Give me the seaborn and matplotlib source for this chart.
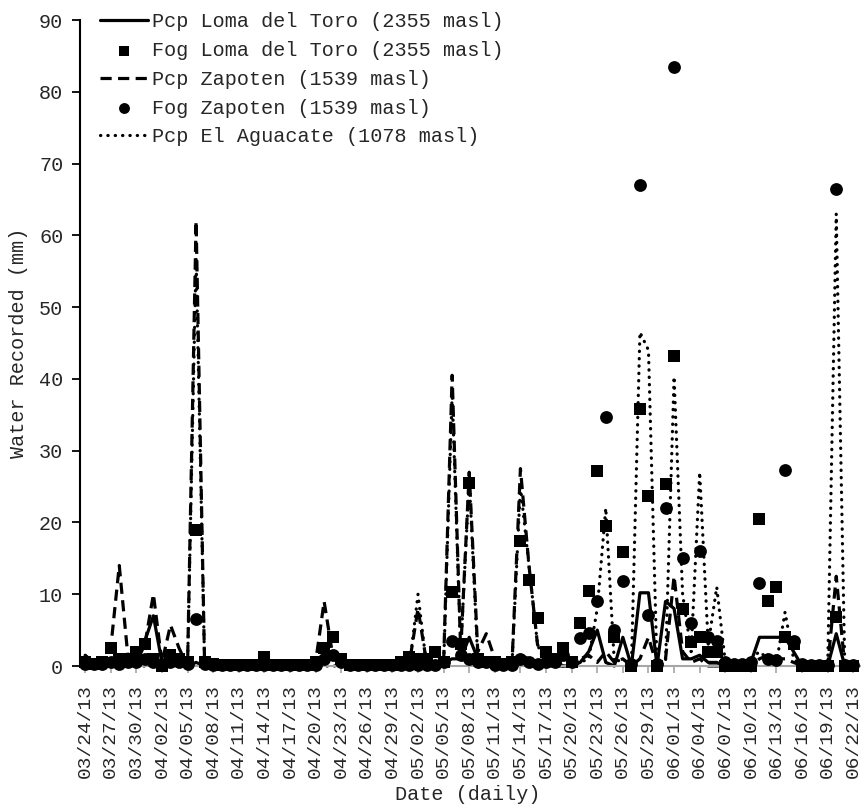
import numpy as np
import pandas as pd
import matplotlib
matplotlib.use("Agg")
import matplotlib.pyplot as plt
import seaborn as sns

# ---------------- data (daily, 03/24/13 .. 06/22/13) ----------------
start_date = "2013-03-24"
end_date = "2013-06-22"

loma_pcp = [
    1.5, 0, 0, 0.5, 0.5, 1, 1.5, 3.5, 7, 0.5,
    0.5, 0.5, 0, 0.5, 0, 0, 0, 0, 0, 0,
    0, 0, 0, 0, 0, 0, 0, 0, 1, 1.5,
    0.5, 0, 0, 0, 0, 0, 0, 0, 0, 0,
    0, 0, 0.5, 1, 1, 4, 1, 0.5, 0, 0,
    0, 1.5, 1, 0.5, 0, 0, 0, 0, 0.5, 2,
    5, 0.5, 0, 4, 0, 10.2, 10.2, 0, 9, 8,
    1, 1, 1.5, 0.5, 0.5, 0, 0, 0, 0.5, 4,
    4, 4, 4, 2, 0, 0, 0, 0, 4.5, 0,
    0]

loma_fog = [
    0.5, 0.3, 0.5, 2.5, 1, 1, 2, 3, 1, 0,
    1.5, 1, 0.5, 19, 0.5, 0.3, 0.2, 0.2, 0.2, 0.2,
    0.2, 1.2, 0.2, 0.2, 0.2, 0.2, 0.2, 0.5, 2.5, 4,
    1, 0.2, 0.2, 0.2, 0.2, 0.2, 0.2, 0.5, 1.2, 1,
    1, 2, 0.5, 10.3, 3, 25.5, 1, 0.5, 0.5, 0.3,
    0.5, 17.4, 12, 6.7, 2, 1, 2.5, 0.5, 6, 10.5,
    27.2, 19.5, 4, 15.9, 0, 35.8, 23.7, 0, 25.3, 43.2,
    8, 3.3, 4, 2, 2, 0, 0, 0, 0, 20.5,
    9, 11, 4, 3, 0, 0, 0, 0, 6.8, 0,
    0]

zap_pcp = [
    1.5, 0.5, 0, 2.5, 14, 1.5, 0.5, 3, 10, 0.5,
    5.7, 2.5, 0, 62, 0, 0, 0, 0, 0, 0,
    0, 0, 0, 0, 0, 0, 0, 0.5, 9, 1.5,
    0.5, 0, 0, 0, 0, 0, 0, 0, 0.5, 8,
    0.5, 0, 0.5, 40.5, 2, 27, 2, 4.5, 1, 0,
    0, 27.5, 14, 3, 0.5, 0, 0.5, 0, 1, 1.5,
    0.5, 2, 0.5, 1, 0, 1, 4, 0, 1, 12.5,
    2, 0.5, 1, 0, 0, 0, 0, 0, 0, 1,
    1.5, 1, 1, 0.5, 0, 0, 0, 0, 12.5, 0,
    0]

zap_fog = [
    0.3, 0.3, 0.3, 0.5, 0.3, 0.5, 0.5, 1, 0.5, 0.3,
    0.5, 0.5, 0.3, 6.5, 0.3, 0.2, 0.2, 0.2, 0.2, 0.2,
    0.2, 0.2, 0.2, 0.2, 0.2, 0.2, 0.2, 0.2, 1, 1.5,
    0.5, 0.2, 0.2, 0.2, 0.2, 0.2, 0.2, 0.2, 0.2, 0.2,
    0.2, 0.2, 0.5, 3.5, 1.5, 1, 0.5, 0.5, 0.2, 0.2,
    0.2, 1, 0.5, 0.3, 0.5, 0.5, 1.5, 0.5, 3.9, 4.6,
    9, 34.7, 5, 11.8, 0.3, 67, 7.1, 0.3, 22, 83.5,
    15, 6, 16, 4, 3.5, 0.5, 0.3, 0.3, 0.5, 11.5,
    1, 0.8, 27.3, 3.5, 0.3, 0.2, 0.2, 0.2, 66.5, 0.2,
    0.2]

agu_pcp = [
    0, 0, 0, 0, 0, 0, 0, 0, 0, 0,
    0, 0, 0, 57, 0, 0, 0, 0, 0, 0,
    0, 0, 0, 0, 0, 0, 0, 0, 0, 0,
    0, 0, 0, 0, 0, 0, 0, 0, 0, 10,
    0, 0, 0, 38, 2, 26, 1, 0, 0, 0,
    0, 25, 14, 3, 0, 0, 0, 0, 0.5, 1,
    8, 22, 0.5, 1, 0, 46.5, 44, 0, 0.5, 40.3,
    10, 2, 27, 3, 11, 0.5, 0.5, 0.3, 1, 2,
    1, 0.5, 7.5, 1, 0, 0, 0, 0, 63, 0,
    0]

series_labels = [
    "Pcp Loma del Toro (2355 masl)",
    "Fog Loma del Toro (2355 masl)",
    "Pcp Zapoten (1539 masl)",
    "Fog Zapoten (1539 masl)",
    "Pcp El Aguacate (1078 masl)",
]

y_ticks = [0, 10, 20, 30, 40, 50, 60, 70, 80, 90]
tick_step_days = 3

# ---------------- build table ----------------
dates = pd.date_range(start_date, end_date, freq="D")
df = pd.DataFrame({
    "day": np.arange(len(dates)),
    "loma_pcp": loma_pcp,
    "loma_fog": loma_fog,
    "zap_pcp": zap_pcp,
    "zap_fog": zap_fog,
    "agu_pcp": agu_pcp,
})
date_labels = [d.strftime("%m/%d/%y") for d in dates]

# ---------------- style ----------------
sns.set_style("white")
plt.rcParams["font.family"] = ["Liberation Mono", "DejaVu Sans"]
FS = 14.5

W, H = 861, 806
fig = plt.figure(figsize=(W / 100, H / 100), dpi=100)
ax = fig.add_axes([80 / W, 1 - 666 / H, 1 - 80 / W, (666 - 20) / H])

lw = 2.3
sns.lineplot(data=df, x="day", y="loma_pcp", ax=ax, color="black",
             linewidth=lw, linestyle="-", label=series_labels[0], clip_on=False)
sns.scatterplot(data=df, x="day", y="loma_fog", ax=ax, color="black",
                marker="s", s=80, edgecolor="black", linewidth=0,
                label=series_labels[1], clip_on=False, zorder=4)
sns.lineplot(data=df, x="day", y="zap_pcp", ax=ax, color="black",
             linewidth=lw, linestyle=(0, (3.5, 2.0)), label=series_labels[2],
             clip_on=False)
sns.scatterplot(data=df, x="day", y="zap_fog", ax=ax, color="black",
                marker="o", s=85, edgecolor="black", linewidth=0,
                label=series_labels[3], clip_on=False, zorder=4)
sns.lineplot(data=df, x="day", y="agu_pcp", ax=ax, color="black",
             linewidth=lw, linestyle=(0, (0.1, 2.2)), dash_capstyle="round",
             label=series_labels[4], clip_on=False)

# ---------------- axes ----------------
ax.set_xlim(-0.6, 90.9)
ax.set_ylim(0, 90)
ax.set_yticks(y_ticks)
xt = list(range(0, len(dates), tick_step_days))
ax.set_xticks(xt)
ax.set_xticklabels([date_labels[i] for i in xt], rotation=90, fontsize=14)
ax.tick_params(axis="y", direction="out", length=6, width=1.3, color="black",
               labelsize=FS, pad=6, left=True)
ax.tick_params(axis="x", direction="out", length=5, width=1.2, color="#a6a6a6",
               labelsize=14, pad=8, bottom=True)

for s in ["top", "right"]:
    ax.spines[s].set_visible(False)
ax.spines["left"].set_color("black")
ax.spines["left"].set_linewidth(1.5)
ax.spines["bottom"].set_color("#a6a6a6")
ax.spines["bottom"].set_linewidth(1.5)
ax.grid(False)

ax.set_xlabel("Date (daily)", fontsize=FS)
ax.set_ylabel("Water Recorded (mm)", fontsize=FS)
ax.xaxis.set_label_coords((468 - 80) / (W - 80), (666 - 785) / 646)
ax.yaxis.set_label_coords((28 - 80) / (W - 80), (666 - 343) / 646)

handles, labels = ax.get_legend_handles_labels()
order = [labels.index(l) for l in series_labels]
ax.legend([handles[i] for i in order], [labels[i] for i in order],
          loc="upper left", bbox_to_anchor=(100 / W, 1 - 12 / H),
          bbox_transform=fig.transFigure, frameon=False, fontsize=FS,
          handlelength=2.4, handletextpad=0.2, labelspacing=0.49,
          borderpad=0, borderaxespad=0, markerscale=0.85)

fig.savefig("out.png", dpi=100)
